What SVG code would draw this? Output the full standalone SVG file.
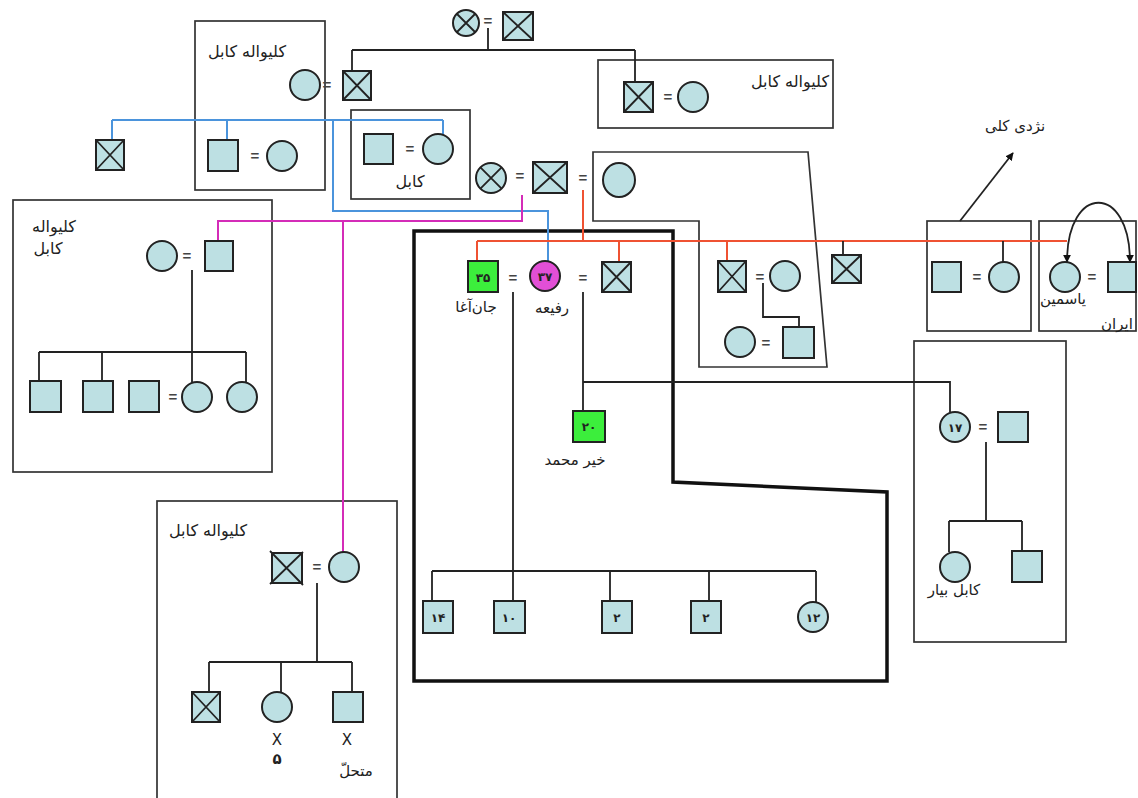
<svg xmlns="http://www.w3.org/2000/svg" width="1138" height="798" viewBox="0 0 1138 798">
<style>
.bg{fill:#fff}
.s{fill:#bde0e3;stroke:#222;stroke-width:2}
.g{fill:#3cee3c;stroke:#222;stroke-width:2}
.m{fill:#e24fd6;stroke:#222;stroke-width:2}
.x{stroke:#222;stroke-width:1.8;fill:none}
.box{fill:none;stroke:#333;stroke-width:1.7}
.thick{fill:none;stroke:#111;stroke-width:3.5}
.ln{fill:none;stroke:#222;stroke-width:1.8}
.red{fill:none;stroke:#ef5232;stroke-width:2}
.blue{fill:none;stroke:#4b94dc;stroke-width:2}
.mag{fill:none;stroke:#d42cb8;stroke-width:2}
.t{font-family:"DejaVu Sans","Noto Sans",sans-serif;font-size:15px;fill:#222;text-anchor:middle}
.h{font-family:"DejaVu Sans","Noto Sans",sans-serif;font-size:16px;fill:#222;text-anchor:middle}
.n{font-family:"DejaVu Sans","Noto Sans",sans-serif;font-size:12px;font-weight:bold;fill:#222;text-anchor:middle}
.eq{font-family:"Liberation Sans",sans-serif;font-size:15px;font-weight:bold;fill:#444;text-anchor:middle}
</style>
<defs>
<marker id="ah" viewBox="0 0 10 10" refX="9" refY="5" markerWidth="8" markerHeight="8" orient="auto-start-reverse" markerUnits="userSpaceOnUse">
<path d="M0,0 L10,5 L0,10 z" fill="#111"/>
</marker>
</defs>
<rect class="bg" x="0" y="0" width="1138" height="798"/>

<g id="boxes">
<rect class="box" x="195" y="21" width="130" height="169"/>
<rect class="box" x="351" y="110" width="119" height="89"/>
<rect class="box" x="598" y="60" width="235" height="68"/>
<polygon class="box" points="593,152 808,152 827,367 699,367 699,221 593,221"/>
<rect class="box" x="927" y="221" width="104" height="110"/>
<rect class="box" x="1039" y="221" width="97" height="110"/>
<rect class="box" x="914" y="341" width="152" height="301"/>
<rect class="box" x="13" y="200" width="259" height="272"/>
<rect class="box" x="157" y="501" width="240" height="300"/>
<polygon class="thick" points="414,231 673,231 673,482 887,492 887,681 414,681"/>
</g>

<g id="connectors">
<path class="ln" d="M488,28 V50 M352,50 H635 M352,50 V71 M635,50 V82"/>
<path class="blue" d="M112,120 H443 M112,120 V140 M227,120 V140 M443,120 V134 M333,120 V211 H548 V261"/>
<path class="mag" d="M522,195 V221 H218 V241 M343,221 V552"/>
<path class="red" d="M583,190 V241 M477,241 H1067 M477,241 V261 M619,241 V262 M727,241 V261"/>
<path class="ln" d="M843,241 V255 M1003,241 V262"/>
<path class="ln" d="M763,283 V317 H799 V327"/>
<path class="ln" d="M513,292 V601 M583,292 V411 M583,382 H950 V412"/>
<path class="ln" d="M432,571 H816 M432,571 V601 M610,571 V601 M709,571 V601 M816,571 V602"/>
<path class="ln" d="M986,442 V521 M949,521 H1022 M949,521 V552 M1022,521 V551"/>
<path class="ln" d="M192,270 V382 M39,352 H246 M39,352 V381 M102,352 V381 M246,352 V382"/>
<path class="ln" d="M317,583 V662 M209,662 H352 M209,662 V692 M281,662 V692 M352,662 V692"/>
<path class="ln" d="M960,221 L1013,153" marker-end="url(#ah)"/>
<path class="ln" d="M1130,262 C1130,183 1067,183 1067,262" marker-start="url(#ah)" marker-end="url(#ah)"/>
</g>

<g id="n-top">
<circle class="s" cx="466" cy="23" r="13"/><path class="x" d="M457,14 L475,32 M475,14 L457,32"/>
<text class="eq" x="488" y="26">=</text>
<rect class="s" x="503" y="12" width="30" height="28"/><path class="x" d="M503,12 L533,40 M533,12 L503,40"/>
</g>

<g id="n-boxA">
<text class="h" x="247" y="57">کلیواله کابل</text>
<circle class="s" cx="305" cy="85" r="15"/>
<text class="eq" x="327" y="90">=</text>
<rect class="s" x="343" y="71" width="28" height="29"/><path class="x" d="M343,71 L371,100 M371,71 L343,100"/>
<rect class="s" x="208" y="140" width="30" height="31"/>
<text class="eq" x="255" y="161">=</text>
<circle class="s" cx="282" cy="156" r="15"/>
</g>

<g id="n-left-x">
<rect class="s" x="96" y="140" width="28" height="30"/><path class="x" d="M96,140 L124,170 M124,140 L96,170"/>
</g>

<g id="n-boxB">
<rect class="s" x="364" y="134" width="29" height="30"/>
<text class="eq" x="410" y="154">=</text>
<circle class="s" cx="438" cy="149" r="15"/>
<text class="h" x="410" y="187">کابل</text>
</g>

<g id="n-topright">
<rect class="s" x="624" y="82" width="29" height="30"/><path class="x" d="M624,82 L653,112 M653,82 L624,112"/>
<text class="eq" x="668" y="102">=</text>
<circle class="s" cx="693" cy="97" r="15"/>
<text class="h" x="790" y="87">کلیواله کابل</text>
</g>

<g id="n-mid-couple">
<circle class="s" cx="491" cy="178" r="15"/><path class="x" d="M480.4,167.4 L501.6,188.6 M501.6,167.4 L480.4,188.6"/>
<text class="eq" x="520" y="181">=</text>
<rect class="s" x="533" y="162" width="34" height="31"/><path class="x" d="M533,162 L567,193 M567,162 L533,193"/>
<text class="eq" x="583" y="183">=</text>
<ellipse class="s" cx="619" cy="180" rx="16" ry="17"/>
</g>

<g id="n-main">
<rect class="g" x="468" y="261" width="30" height="31"/>
<text class="n" x="483" y="282">٣۵</text>
<text class="eq" x="513" y="283">=</text>
<circle class="m" cx="545" cy="276" r="15"/>
<text class="n" x="545" y="281">٣٧</text>
<text class="eq" x="583" y="283">=</text>
<rect class="s" x="602" y="262" width="29" height="30"/><path class="x" d="M602,262 L631,292 M631,262 L602,292"/>
<text class="t" x="476" y="312">جان‌آغا</text>
<text class="t" x="552" y="313">رفیعه</text>
</g>

<g id="n-kheir">
<rect class="g" x="573" y="411" width="32" height="31"/>
<text class="n" x="589" y="431">۲۰</text>
<text class="t" x="575" y="465">خیر محمد</text>
</g>

<g id="n-children">
<rect class="s" x="423" y="601" width="30" height="32"/><text class="n" x="438" y="622">۱۴</text>
<rect class="s" x="494" y="601" width="31" height="32"/><text class="n" x="509" y="622">۱۰</text>
<rect class="s" x="602" y="601" width="30" height="32"/><text class="n" x="617" y="622">۲</text>
<rect class="s" x="691" y="601" width="30" height="32"/><text class="n" x="706" y="622">۲</text>
<circle class="s" cx="813" cy="617" r="15"/><text class="n" x="813" y="622">۱۲</text>
</g>

<g id="n-polygon">
<rect class="s" x="718" y="261" width="28" height="31"/><path class="x" d="M718,261 L746,292 M746,261 L718,292"/>
<text class="eq" x="760" y="282">=</text>
<circle class="s" cx="785" cy="276" r="15"/>
<circle class="s" cx="740" cy="342" r="15"/>
<text class="eq" x="766" y="348">=</text>
<rect class="s" x="783" y="327" width="31" height="31"/>
</g>

<g id="n-x-right">
<rect class="s" x="832" y="255" width="29" height="28"/><path class="x" d="M832,255 L861,283 M861,255 L832,283"/>
</g>

<g id="n-boxD">
<rect class="s" x="932" y="262" width="29" height="30"/>
<text class="eq" x="977" y="282">=</text>
<circle class="s" cx="1004" cy="277" r="15"/>
<text class="t" x="1015" y="131">نژدی کلی</text>
</g>

<g id="n-boxE">
<circle class="s" cx="1065" cy="277" r="15"/>
<text class="eq" x="1092" y="282">=</text>
<rect class="s" x="1108" y="262" width="28" height="30"/>
<text class="t" x="1063" y="304">یاسمین</text>
<text class="t" x="1117" y="329">ایران</text>
</g>

<g id="n-boxF">
<circle class="s" cx="955" cy="427" r="15"/><text class="n" x="955" y="432">۱۷</text>
<text class="eq" x="983" y="432">=</text>
<rect class="s" x="998" y="412" width="30" height="30"/>
<circle class="s" cx="955" cy="567" r="15"/>
<rect class="s" x="1012" y="551" width="30" height="31"/>
<text class="t" x="954" y="595">کابل بیار</text>
</g>

<g id="n-boxG">
<text class="h" x="54" y="232">کلیواله</text>
<text class="h" x="48" y="254">کابل</text>
<circle class="s" cx="162" cy="256" r="15"/>
<text class="eq" x="187" y="261">=</text>
<rect class="s" x="205" y="241" width="28" height="30"/>
<rect class="s" x="30" y="381" width="31" height="31"/>
<rect class="s" x="83" y="381" width="30" height="31"/>
<rect class="s" x="129" y="381" width="30" height="31"/>
<text class="eq" x="173" y="402">=</text>
<circle class="s" cx="197" cy="397" r="15"/>
<circle class="s" cx="242" cy="397" r="15"/>
</g>

<g id="n-boxH">
<text class="h" x="208" y="536">کلیواله کابل</text>
<rect class="s" x="272" y="553" width="30" height="30"/><path class="x" d="M270,551 L303,585 M303,552 L270,584"/>
<text class="eq" x="317" y="572">=</text>
<circle class="s" cx="344" cy="567" r="15"/>
<rect class="s" x="192" y="692" width="28" height="30"/><path class="x" d="M192,692 L220,722 M220,692 L192,722"/>
<circle class="s" cx="277" cy="707" r="15"/>
<rect class="s" x="333" y="692" width="30" height="30"/>
<text class="t" x="277" y="745" font-size="13">X</text>
<text class="t" x="277" y="764" font-weight="bold">۵</text>
<text class="t" x="347" y="745" font-size="13">X</text>
<text class="t" x="356" y="776">متحلّ</text>
</g>
</svg>
